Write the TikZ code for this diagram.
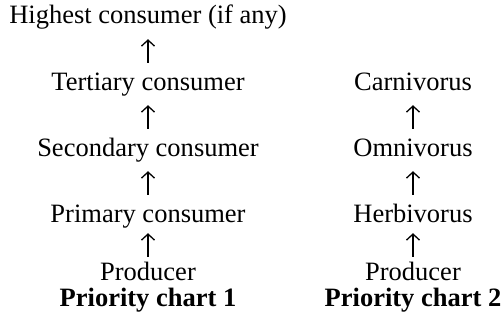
\documentclass[tikz,border=0pt]{standalone}
\usepackage{fontspec}
\setmainfont{Liberation Serif}
\usetikzlibrary{arrows.meta}

\begin{document}
\begin{tikzpicture}[
  x=1pt,y=-1pt,font=\fontsize{26.5}{30}\selectfont,
  level/.style={anchor=base,inner sep=0pt,text height=18pt,text depth=6pt},
  chart/.style={level,font=\fontsize{26.5}{30}\selectfont\bfseries},
  up/.style={-{Straight Barb[length=6pt,width=13pt]},line width=1.3pt,
    shorten <=#1,shorten >=#1},
  up/.default=9pt
]
\useasboundingbox (0,0) rectangle (503,321);

% Chart 1: consumer levels, one per row
\node[level] (high1) at (148,24) {Highest consumer (if any)};
\node[level] (tert1) at (148,90) {Tertiary consumer};
\node[level] (sec1) at (148,156) {Secondary consumer};
\node[level] (prim1) at (148,222) {Primary consumer};
\node[level] (prod1) at (148,280) {Producer};
\node[chart] (chart1) at (148,306) {Priority chart 1};

% Chart 2: feeding habits, on the same rows
\node[level] (carn2) at (413,90) {Carnivorus};
\node[level] (omni2) at (413,156) {Omnivorus};
\node[level] (herb2) at (413,222) {Herbivorus};
\node[level] (prod2) at (413,280) {Producer};
\node[chart] (chart2) at (413,306) {Priority chart 2};

\draw[up] (tert1) -- (high1);
\draw[up] (sec1) -- (tert1);
\draw[up] (prim1) -- (sec1);
\draw[up=5pt] (prod1) -- (prim1);

\draw[up] (omni2) -- (carn2);
\draw[up] (herb2) -- (omni2);
\draw[up=5pt] (prod2) -- (herb2);

\end{tikzpicture}
\end{document}
